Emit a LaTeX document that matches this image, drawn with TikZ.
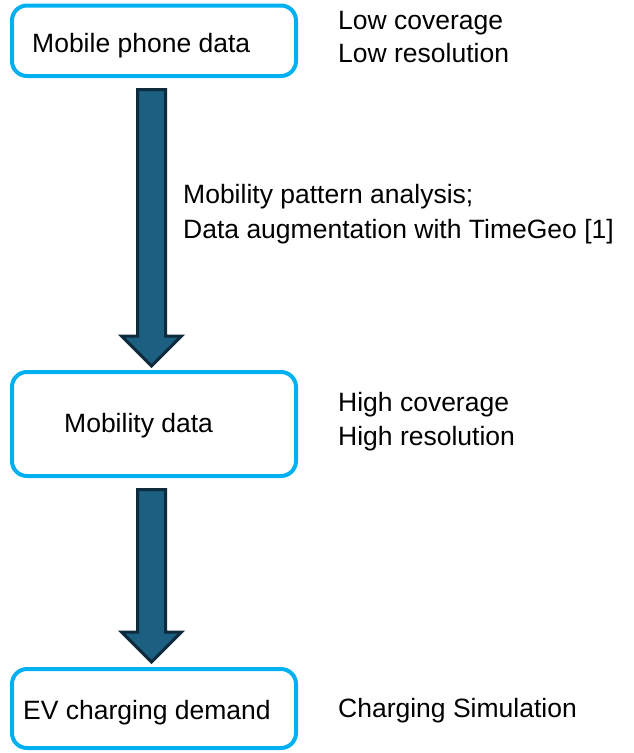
\documentclass[tikz,border=0pt]{standalone}
\usepackage{fontspec}
\setmainfont{Liberation Sans}
\usetikzlibrary{calc}

\definecolor{boxblue}{HTML}{00B0F0}
\definecolor{arrowfill}{HTML}{1C5F80}
\definecolor{arrowline}{HTML}{0E2A3D}

\tikzset{
  stagebox/.style={draw=boxblue, line width=4pt, rounded corners=15pt,
    fill=white, inner sep=0pt, outer sep=0pt, minimum width=284pt},
  lbl/.style={inner sep=0pt, anchor=base west, font=\fontsize{26.5}{31}\selectfont},
  blockarrow/.style={fill=arrowfill, draw=arrowline, line width=3pt, line join=miter},
}

% block arrow from shaft start #1 down to tip #2
\newcommand\flowarrow[2]{%
  \draw[blockarrow]
    ($(#1)+(-14,0)$) -- ($(#2)+(-14,-30)$) -- ($(#2)+(-30,-30)$) -- (#2)
    -- ($(#2)+(30,-30)$) -- ($(#2)+(14,-30)$) -- ($(#1)+(14,0)$) -- cycle;}

\begin{document}
\begin{tikzpicture}[x=1pt, y=-1pt]
  \useasboundingbox (0,0) rectangle (633,753);

  % stage boxes
  \node[stagebox, minimum height=70.5pt] (phone) at (154,40.75) {};
  \node[stagebox, minimum height=104pt] (mob) at (154,424) {};
  \node[stagebox, minimum height=79pt] (ev) at (154,708.5) {};

  % box labels
  \node[lbl] (phoneTxt) at (32,52) {Mobile phone data};
  \node[lbl] (mobTxt) at (64,432.5) {Mobility data};
  \node[lbl] (evTxt) at (23,719) {EV charging demand};

  % side notes
  \node[lbl] (lowCov) at (338,29) {Low coverage};
  \node[lbl] (lowRes) at (338,62) {Low resolution};
  \node[lbl] (stepA) at (183,203) {Mobility pattern analysis;};
  \node[lbl] (stepB) at (183,238) {Data augmentation with TimeGeo [1]};
  \node[lbl] (highCov) at (338,411) {High coverage};
  \node[lbl] (highRes) at (338,445) {High resolution};
  \node[lbl] (sim) at (338,717) {Charging Simulation};

  % arrows between stages
  \coordinate (a1s) at ($(phone.south)+(-2.5,13.5)$);
  \coordinate (a1t) at ($(mob.north)+(-2.5,-6)$);
  \coordinate (a2s) at ($(mob.south)+(-2.5,13.5)$);
  \coordinate (a2t) at ($(ev.north)+(-2.5,-7)$);
  \flowarrow{a1s}{a1t}
  \flowarrow{a2s}{a2t}
\end{tikzpicture}
\end{document}
